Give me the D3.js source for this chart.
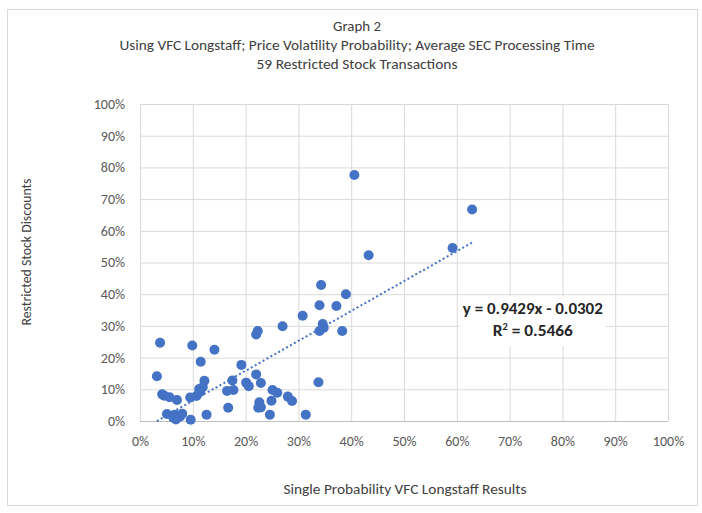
<!DOCTYPE html>
<html>
<head>
<meta charset="utf-8">
<script src="https://cdn.jsdelivr.net/npm/d3@7"></script>
<style>
  body { margin: 0; background: #fff; }
  text { font-family: Carlito, Calibri, Lato, "Open Sans", sans-serif; }
</style>
</head>
<body>
<div id="my_dataviz"></div>
<script>
// values (both in %)
const vfcResults = [34.3, 39.0, 34.0, 37.2, 30.8, 34.6, 34.0, 38.3, 27.0, 22.3,
  22.0, 3.8, 9.9, 14.1, 11.5, 19.2, 3.2, 22.0, 33.8, 12.2,
  17.5, 20.1, 20.6, 22.9, 11.9, 11.2, 16.5, 17.7, 25.1, 26.0,
  4.2, 5.6, 7.0, 9.5, 10.7, 28.0, 28.8, 22.6, 24.9, 22.4,
  22.9, 16.7, 5.1, 6.6, 8.0, 12.6, 24.6, 31.4, 6.8, 9.6,
  7.6, 40.6, 62.9, 43.3, 59.2, 11.4, 6.3, 34.8, 4.6];
const discounts = [42.9, 40.0, 36.5, 36.3, 33.2, 30.6, 28.4, 28.4, 29.9, 28.4,
  27.3, 24.7, 23.8, 22.5, 18.7, 17.7, 14.1, 14.7, 12.2, 12.7,
  12.8, 12.1, 11.0, 12.0, 10.7, 10.1, 9.5, 9.8, 9.8, 8.9,
  8.4, 7.5, 6.6, 7.4, 7.9, 7.7, 6.3, 5.9, 6.4, 4.2,
  4.3, 4.2, 2.2, 2.0, 2.3, 2.0, 2.0, 2.0, 0.5, 0.4,
  1.4, 77.6, 66.7, 52.3, 54.6, 9.2, 1.0, 29.4, 8.0];
const tickValues = [0, 10, 20, 30, 40, 50, 60, 70, 80, 90, 100];
const slope = 0.9429, intercept = -0.0302, rSquared = 0.5466;
const titleLines = ["Graph 2",
  "Using VFC Longstaff; Price Volatility Probability; Average SEC Processing Time",
  "59 Restricted Stock Transactions"];
const xTitle = "Single Probability VFC Longstaff Results";
const yTitle = "Restricted Stock Discounts";

const data = vfcResults.map((v, i) => ({x: v, y: discounts[i]}));

const W = 702, H = 513;
const margin = {top: 104, right: 34, bottom: 92, left: 140},
    width = W - margin.left - margin.right,
    height = H - margin.top - margin.bottom;

const root = d3.select("#my_dataviz")
  .append("svg")
    .attr("width", W)
    .attr("height", H);

// chart frame
root.append("rect")
  .attr("x", 7.5).attr("y", 9.5)
  .attr("width", 690).attr("height", 496)
  .attr("fill", "#fff")
  .attr("stroke", "#d9d9d9");

const svg = root.append("g")
  .attr("transform", `translate(${margin.left}, ${margin.top})`);

const x = d3.scaleLinear().domain([0, 100]).range([0, width]);
const y = d3.scaleLinear().domain([0, 100]).range([height, 0]);

// grid + axes
const xAxis = svg.append("g")
  .attr("transform", `translate(0, ${height})`)
  .call(d3.axisBottom(x).tickValues(tickValues).tickSize(-height).tickPadding(15)
    .tickFormat(d => d + "%"));
const yAxis = svg.append("g")
  .call(d3.axisLeft(y).tickValues(tickValues).tickSize(-width).tickPadding(15)
    .tickFormat(d => d + "%"));

[xAxis, yAxis].forEach(a => {
  a.select(".domain").remove();
  a.selectAll(".tick line").attr("stroke", "#d9d9d9");
  a.selectAll(".tick text")
    .attr("fill", "#595959")
    .style("font-size", "14px");
});
yAxis.selectAll(".tick").filter(d => d === 0).select("line").attr("stroke", "#bfbfbf");

// dots
svg.append("g")
  .selectAll("circle")
  .data(data)
  .enter()
  .append("circle")
    .attr("cx", d => x(d.x))
    .attr("cy", d => y(d.y))
    .attr("r", 5)
    .style("fill", "#4472c4");

// linear trendline over the data range
const xmin = d3.min(vfcResults), xmax = d3.max(vfcResults);
svg.append("line")
  .attr("x1", x(xmin)).attr("y1", y((slope * xmin / 100 + intercept) * 100))
  .attr("x2", x(xmax)).attr("y2", y((slope * xmax / 100 + intercept) * 100))
  .attr("stroke", "#4472c4")
  .attr("stroke-width", 2)
  .attr("stroke-dasharray", "2,2.5");

// equation label
const lx = x(74.4), ly = y(35.6);
svg.append("rect")
  .attr("x", lx - 73).attr("y", ly - 12)
  .attr("width", 146).attr("height", 50)
  .attr("fill", "#fff");
svg.append("text")
  .attr("x", lx).attr("y", ly + 6)
  .attr("text-anchor", "middle")
  .style("font-size", "15px").style("font-weight", "bold")
  .attr("fill", "#262626")
  .attr("textLength", 140).attr("lengthAdjust", "spacingAndGlyphs")
  .text(`y = ${slope}x - ${Math.abs(intercept).toFixed(4)}`);
const r2 = svg.append("text")
  .attr("x", lx).attr("y", ly + 28)
  .attr("text-anchor", "middle")
  .style("font-size", "15px").style("font-weight", "bold")
  .attr("fill", "#262626")
  .attr("textLength", 80).attr("lengthAdjust", "spacingAndGlyphs");
r2.append("tspan").text("R");
r2.append("tspan").attr("dy", -6).style("font-size", "9px").text("2");
r2.append("tspan").attr("dy", 6).text(` = ${rSquared}`);

// titles
const titleY = [31, 50, 69], titleLen = [48, 475, 201];
titleLines.forEach((t, i) => {
  root.append("text")
    .attr("x", 357).attr("y", titleY[i])
    .attr("text-anchor", "middle")
    .style("font-size", "15px")
    .attr("fill", "#404040")
    .attr("textLength", titleLen[i]).attr("lengthAdjust", "spacingAndGlyphs")
    .text(t);
});

root.append("text")
  .attr("x", 405).attr("y", 494)
  .attr("text-anchor", "middle")
  .style("font-size", "14.5px")
  .attr("fill", "#404040")
  .attr("textLength", 243).attr("lengthAdjust", "spacingAndGlyphs")
  .text(xTitle);

root.append("text")
  .attr("transform", "translate(31, 252) rotate(-90)")
  .attr("text-anchor", "middle")
  .style("font-size", "14.5px")
  .attr("fill", "#404040")
  .attr("textLength", 147).attr("lengthAdjust", "spacingAndGlyphs")
  .text(yTitle);
</script>
</body>
</html>
